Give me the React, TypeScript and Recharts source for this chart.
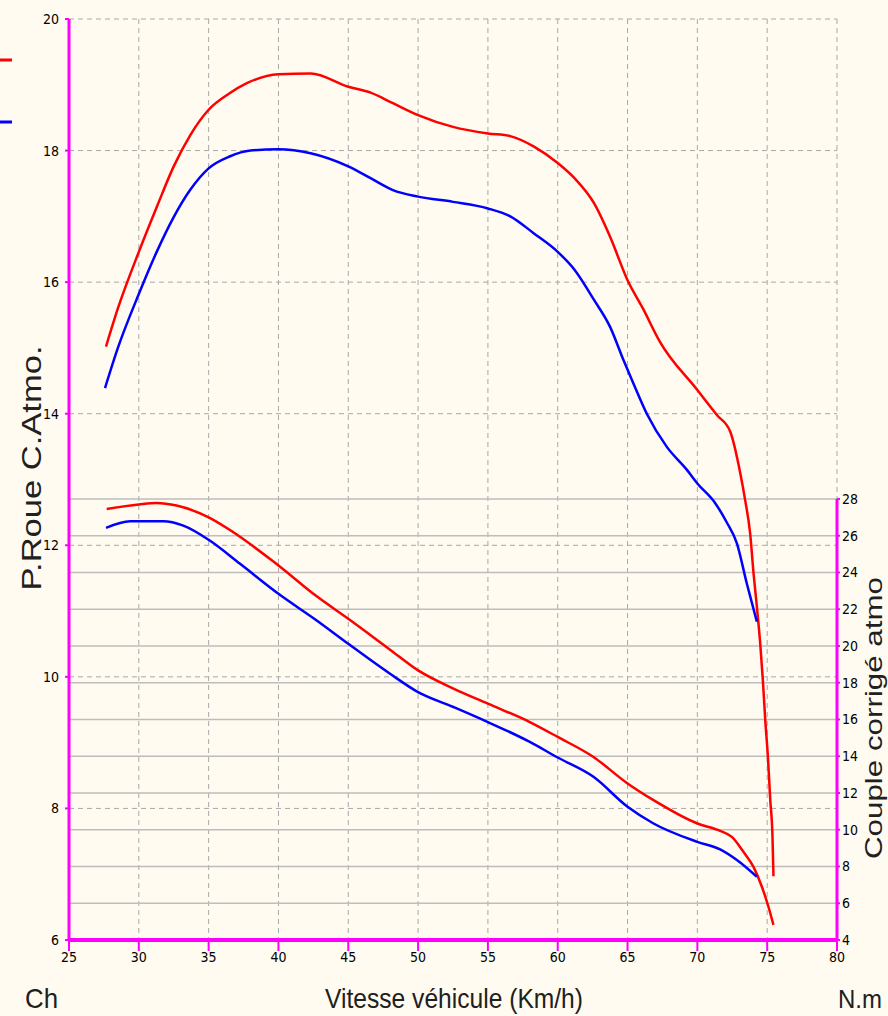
import React from "react";
import { LineChart, Line, XAxis, YAxis, CartesianGrid, ReferenceLine } from "recharts";

// vitesse (km/h) / puissance roue (ch)
const redPowerSpeed = [27.65, 28.5, 30, 31.3, 32.5, 33.7, 35, 36.5, 37.7, 40, 42.3, 45, 46.6, 48.2, 50, 52.5, 55, 56.6, 58.3, 60, 61.2, 62.6, 63.75, 65, 66.1, 67.3, 70, 71.4, 72.35, 73.07, 73.42, 73.78, 74.02, 74.26, 74.5, 74.69, 74.86, 75.05, 75.22, 75.38, 75.45];
const redPower = [15.02, 15.6, 16.46, 17.15, 17.76, 18.24, 18.62, 18.87, 19.02, 19.16, 19.17, 18.97, 18.88, 18.72, 18.54, 18.36, 18.26, 18.22, 18.06, 17.81, 17.58, 17.2, 16.69, 16.03, 15.6, 15.1, 14.36, 13.98, 13.73, 13.1, 12.69, 12.18, 11.58, 11.07, 10.51, 9.95, 9.35, 8.79, 8.13, 7.57, 6.97];

const bluePowerSpeed = [27.58, 28.5, 30, 31.28, 32.45, 33.67, 35, 36.5, 38, 40, 42.3, 45, 46.6, 48.2, 50, 52.5, 55, 56.6, 58.3, 60, 61.2, 62.6, 63.75, 64.7, 65.42, 66.38, 67.8, 69.24, 70, 71.28, 72.1, 72.83, 73.54, 74.26];
const bluePower = [14.39, 15.0, 15.82, 16.46, 16.97, 17.4, 17.73, 17.91, 18.0, 18.02, 17.96, 17.76, 17.58, 17.4, 17.3, 17.22, 17.12, 17.0, 16.74, 16.46, 16.19, 15.73, 15.32, 14.82, 14.46, 14.0, 13.5, 13.15, 12.94, 12.64, 12.35, 12.03, 11.42, 10.84];

// couple (N.m)
const redTorqueSpeed = [27.7, 30, 31.28, 32.7, 35, 36.77, 40, 42.74, 45, 47.99, 50, 52.53, 55, 58, 60, 62.56, 65, 66.86, 70, 71.63, 72.47, 73.3, 74.02, 74.62, 75.09, 75.45];
const redTorque = [27.46, 27.7, 27.78, 27.64, 27.0, 26.19, 24.38, 22.7, 21.48, 19.8, 18.67, 17.68, 16.86, 15.86, 15.05, 13.96, 12.52, 11.61, 10.34, 9.94, 9.61, 8.8, 7.98, 6.9, 5.81, 4.82];

const blueTorqueSpeed = [27.65, 29.37, 31.75, 33.19, 35, 37.25, 40, 42.74, 45, 47.99, 50, 52.53, 55, 58, 60, 62.56, 65, 66.86, 70, 71.63, 72.83, 74.26];
const blueTorque = [26.43, 26.79, 26.79, 26.55, 25.78, 24.47, 22.84, 21.39, 20.12, 18.49, 17.49, 16.68, 15.86, 14.78, 13.93, 12.88, 11.25, 10.34, 9.34, 8.93, 8.35, 7.44];

const speedTicks = [25, 30, 35, 40, 45, 50, 55, 60, 65, 70, 75, 80];
const powerTicks = [6, 8, 10, 12, 14, 16, 18, 20];
const torqueTicks = [4, 6, 8, 10, 12, 14, 16, 18, 20, 22, 24, 26, 28];

const pts = (xs: number[], ys: number[]) => xs.map((x, i) => ({ x, v: ys[i] }));

const MAGENTA = "#FF00FF";
const BG = "#FFFBF0";
const tickFont = {
  fill: "#000",
  fontSize: 14,
  fontFamily: "'Liberation Sans Narrow', 'DejaVu Sans Condensed', 'Liberation Sans', sans-serif",
};
const labelFont = "'Liberation Sans', Arial, sans-serif";

export default function App() {
  return (
    <div style={{ position: "absolute", left: 0, top: 0, width: 888, height: 1016, background: BG, overflow: "hidden" }}>
      <LineChart width={888} height={1016} margin={{ top: 19, right: 0, bottom: 0, left: 0 }}>
        <CartesianGrid stroke="#a8a8a8" strokeDasharray="5 4" />
        {torqueTicks.slice(1).map((t) => (
          <ReferenceLine key={t} yAxisId="right" y={t} stroke="#bdbdbd" strokeWidth={1.5} />
        ))}
        <XAxis
          type="number"
          dataKey="x"
          domain={[25, 80]}
          ticks={speedTicks}
          height={76}
          tickSize={11}
          tickMargin={1}
          tick={tickFont}
          axisLine={{ stroke: MAGENTA, strokeWidth: 4 }}
          tickLine={{ stroke: MAGENTA, strokeWidth: 2 }}
        />
        <YAxis
          domain={[6, 20]}
          ticks={powerTicks}
          width={69}
          tickSize={4}
          tickMargin={6}
          tick={tickFont}
          axisLine={{ stroke: MAGENTA, strokeWidth: 3 }}
          tickLine={{ stroke: MAGENTA, strokeWidth: 2 }}
        />
        <YAxis
          yAxisId="right"
          orientation="right"
          domain={[4, 54.12]}
          ticks={torqueTicks}
          width={51}
          tickSize={3}
          tickMargin={2}
          tick={tickFont}
          axisLine={false}
          tickLine={{ stroke: MAGENTA, strokeWidth: 2 }}
        />
        <ReferenceLine
          yAxisId="right"
          segment={[{ x: 80, y: 4 }, { x: 80, y: 28 }]}
          stroke={MAGENTA}
          strokeWidth={3}
        />
        <Line data={pts(redPowerSpeed, redPower)} dataKey="v" type="monotone" stroke="#FF0000" strokeWidth={2.5} dot={false} isAnimationActive={false} />
        <Line data={pts(bluePowerSpeed, bluePower)} dataKey="v" type="monotone" stroke="#0000FF" strokeWidth={2.5} dot={false} isAnimationActive={false} />
        <Line yAxisId="right" data={pts(redTorqueSpeed, redTorque)} dataKey="v" type="monotone" stroke="#FF0000" strokeWidth={2.5} dot={false} isAnimationActive={false} />
        <Line yAxisId="right" data={pts(blueTorqueSpeed, blueTorque)} dataKey="v" type="monotone" stroke="#0000FF" strokeWidth={2.5} dot={false} isAnimationActive={false} />
      </LineChart>
      <svg width={888} height={1016} style={{ position: "absolute", left: 0, top: 0, pointerEvents: "none" }}>
        <line x1={0} x2={12} y1={60} y2={60} stroke="#FF0000" strokeWidth={3} />
        <line x1={0} x2={12} y1={122} y2={122} stroke="#0000FF" strokeWidth={3} />
        <text x={0} y={0} transform="translate(41,468) rotate(-90)" textAnchor="middle" fontFamily={labelFont} fontSize={27} fill="#202020" textLength={245} lengthAdjust="spacingAndGlyphs">
          P.Roue C.Atmo.
        </text>
        <text x={0} y={0} transform="translate(882,718) rotate(-90)" textAnchor="middle" fontFamily={labelFont} fontSize={24} fill="#202020" textLength={282} lengthAdjust="spacingAndGlyphs">
          Couple corrigé atmo
        </text>
        <text x={454} y={1008} textAnchor="middle" fontFamily={labelFont} fontSize={28} fill="#202020" textLength={258} lengthAdjust="spacingAndGlyphs">
          Vitesse véhicule (Km/h)
        </text>
        <text x={25} y={1008} fontFamily={labelFont} fontSize={28} fill="#202020" textLength={33} lengthAdjust="spacingAndGlyphs">
          Ch
        </text>
        <text x={838} y={1008} fontFamily={labelFont} fontSize={26} fill="#202020" textLength={44} lengthAdjust="spacingAndGlyphs">
          N.m
        </text>
      </svg>
    </div>
  );
}
